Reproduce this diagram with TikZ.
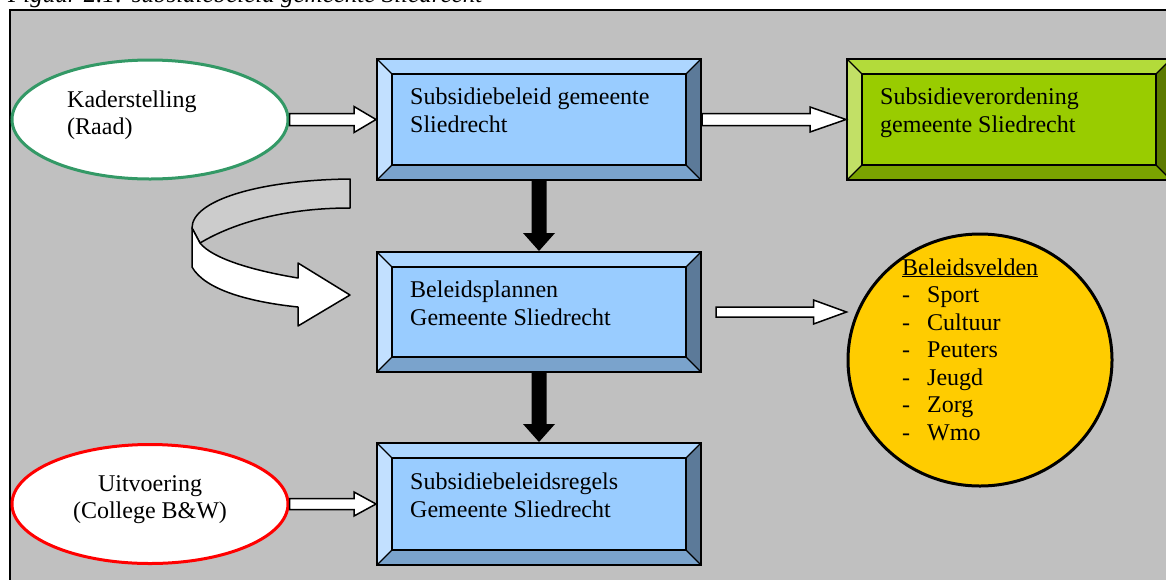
\documentclass[tikz,border=0pt]{standalone}
\usepackage{fontspec}
\setmainfont{Liberation Serif}
\usetikzlibrary{shapes.geometric,calc}
\definecolor{bgray}{HTML}{C0C0C0}
\definecolor{bface}{HTML}{99CCFF}
\definecolor{btop}{HTML}{ADD6FF}
\definecolor{bleft}{HTML}{C2E0FF}
\definecolor{bbot}{HTML}{7AA3CC}
\definecolor{bright}{HTML}{5C7A99}
\definecolor{gface}{HTML}{99CC00}
\definecolor{gtop}{HTML}{B3DB3A}
\definecolor{gleft}{HTML}{C2E066}
\definecolor{gbot}{HTML}{7AA300}
\definecolor{gright}{HTML}{5C7A00}
\definecolor{kgreen}{HTML}{339966}
\definecolor{yfill}{HTML}{FFCC00}
\definecolor{curvgray}{HTML}{CCCCCC}
\newcommand\myblockarrow[5]{%
  \draw[harrow] let \p1=(#1), \p2=(#2) in
    (\x1,\y2+#3) -- (\x2-#5,\y2+#3) -- (\x2-#5,\y2+#4) -- (\x2,\y2)
    -- (\x2-#5,\y2-#4) -- (\x2-#5,\y2-#3) -- (\x1,\y2-#3) -- cycle;}
\newcommand\mydownarrow[2]{%
  \fill[black] let \p1=(#1), \p2=(#2) in
    (\x1-7.5pt,\y1) -- (\x1-7.5pt,\y2+18pt) -- (\x1-16pt,\y2+18pt) -- (\x2,\y2)
    -- (\x1+16pt,\y2+18pt) -- (\x1+7.5pt,\y2+18pt) -- (\x1+7.5pt,\y1) -- cycle;}
\tikzset{
  bevel/.style n args={5}{rectangle, inner sep=0pt, fill=#1, draw=black, line width=2pt,
    path picture={
      \fill[#2] (path picture bounding box.north west) -- (path picture bounding box.north east)
        -- ([shift={(-15pt,-15pt)}]path picture bounding box.north east)
        -- ([shift={(15pt,-15pt)}]path picture bounding box.north west) -- cycle;
      \fill[#3] (path picture bounding box.north west) -- (path picture bounding box.south west)
        -- ([shift={(15pt,15pt)}]path picture bounding box.south west)
        -- ([shift={(15pt,-15pt)}]path picture bounding box.north west) -- cycle;
      \fill[#4] (path picture bounding box.south west) -- (path picture bounding box.south east)
        -- ([shift={(-15pt,15pt)}]path picture bounding box.south east)
        -- ([shift={(15pt,15pt)}]path picture bounding box.south west) -- cycle;
      \fill[#5] (path picture bounding box.north east) -- (path picture bounding box.south east)
        -- ([shift={(-15pt,15pt)}]path picture bounding box.south east)
        -- ([shift={(-15pt,-15pt)}]path picture bounding box.north east) -- cycle;
      \draw[line width=1.5pt] ([shift={(15pt,-15pt)}]path picture bounding box.north west)
        rectangle ([shift={(-15pt,15pt)}]path picture bounding box.south east);
      \draw[line width=1.2pt]
        (path picture bounding box.north west) -- ([shift={(15pt,-15pt)}]path picture bounding box.north west)
        (path picture bounding box.north east) -- ([shift={(-15pt,-15pt)}]path picture bounding box.north east)
        (path picture bounding box.south west) -- ([shift={(15pt,15pt)}]path picture bounding box.south west)
        (path picture bounding box.south east) -- ([shift={(-15pt,15pt)}]path picture bounding box.south east);
    }},
  bluebox/.style={bevel={bface}{btop}{bleft}{bbot}{bright}, minimum width=324pt},
  greenbox/.style={bevel={gface}{gtop}{gleft}{gbot}{gright}, minimum width=324pt},
  boxtext/.style={font=\fontsize{24}{27.5}\selectfont, align=left, inner sep=0pt},
  oval/.style={ellipse, fill=white, line width=3pt, inner sep=0pt, minimum width=276pt, minimum height=119pt},
  harrow/.style={fill=white, draw=black, line width=1.5pt, line join=miter},
  curvearrow/.style={draw=black, line width=1.5pt, line join=round}
}
\begin{document}
\begin{tikzpicture}[x=1pt,y=-1pt]
\useasboundingbox (0,0) rectangle (1166,579);
\clip (0,0) rectangle (1166,579);
\fill[white] (0,0) rectangle (1166,579);
\node[font=\itshape\fontsize{25}{29}\selectfont, anchor=base west, inner sep=0pt] (cap) at (8,2.5) {Figuur 2.1: subsidiebeleid gemeente Sliedrecht};
\fill[bgray] (10,10) rectangle (1190,600);
\draw[line width=2pt] (10,600) -- (10,10) -- (1190,10);

% boxes
\node[bluebox, minimum height=121pt] (b1) at (539,119.5) {};
\node[bluebox, minimum height=120pt] (b2) at (539,312) {};
\node[bluebox, minimum height=122pt] (b3) at (539,504) {};
\node[greenbox, minimum height=121pt] (g1) at (1009,119.5) {};
% (base anchor of a two-line node = baseline of its last line)
\node[boxtext, anchor=base west] (t1) at (410,132) {Subsidiebeleid gemeente\\Sliedrecht};
\node[boxtext, anchor=base west] (t2) at (410,325) {Beleidsplannen\\Gemeente Sliedrecht};
\node[boxtext, anchor=base west] (t3) at (410,517) {Subsidiebeleidsregels\\Gemeente Sliedrecht};
\node[boxtext, anchor=base west] (tg) at (880,132) {Subsidieverordening\\gemeente Sliedrecht};

% ellipses
\node[oval, draw=kgreen] (k) at (150,119.5) {};
\node[boxtext, anchor=base west] (tk) at (67,134.5) {Kaderstelling\\(Raad)};
\node[oval, draw=red] (u) at (150,504) {};
\node[boxtext, align=center, anchor=base] (tu) at (150,518.5) {Uitvoering\\(College B\&W)};
\node[ellipse, fill=yfill, draw=black, line width=3pt, inner sep=0pt, minimum width=264pt, minimum height=252pt] (yc) at (980,360) {};
\node[boxtext, anchor=base west] (tv) at (902,440) {\underline{Beleidsvelden}\\
\makebox[25pt][l]{-}Sport\\
\makebox[25pt][l]{-}Cultuur\\
\makebox[25pt][l]{-}Peuters\\
\makebox[25pt][l]{-}Jeugd\\
\makebox[25pt][l]{-}Zorg\\
\makebox[25pt][l]{-}Wmo};

% white block arrows
\myblockarrow{k.east}{b1.west}{6pt}{13pt}{22pt}
\myblockarrow{b1.east}{g1.west}{6pt}{12.5pt}{36pt}
\myblockarrow{[xshift=14pt]b2.east}{b2.east -| yc.west}{5pt}{12pt}{33pt}
\myblockarrow{u.east}{b3.west}{5.5pt}{12pt}{22pt}

% black down arrows
\mydownarrow{b1.south}{b2.north}
\mydownarrow{b2.south}{b3.north}

% curved arrow
\draw[curvearrow, fill=curvgray] (350,179) .. controls (260,180) and (192,200) .. (192,228)
  -- (200,243) .. controls (230,225) and (280,208) .. (350,208) -- cycle;
\draw[curvearrow, fill=white] (192,228) -- (192,267) .. controls (205,290) and (250,302) .. (298,307)
  -- (298,326) -- (350,295) -- (298,263) -- (298,278)
  .. controls (250,270) and (212,258) .. (200,243) -- cycle;
\end{tikzpicture}
\end{document}
